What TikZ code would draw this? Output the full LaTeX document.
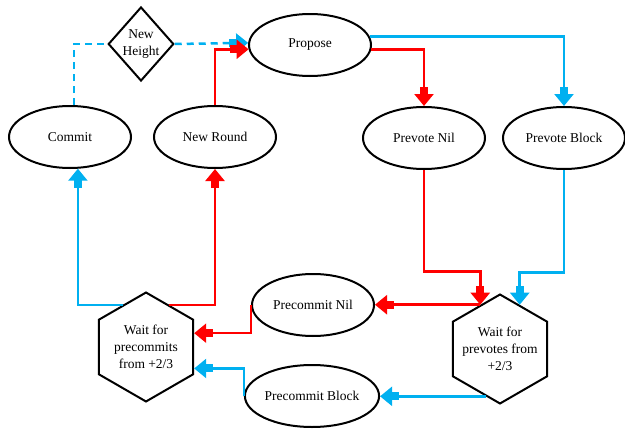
\documentclass[tikz,border=0pt]{standalone}
\usepackage{fontspec}
\setmainfont{Liberation Serif}
\usetikzlibrary{shapes.geometric,arrows.meta}
\definecolor{flowblue}{RGB}{0,176,240}
\definecolor{flowred}{RGB}{255,0,0}
\begin{document}
\begin{tikzpicture}[x=1pt, y=-1pt,
        font=\fontsize{13.5}{17}\selectfont,
        state/.style={ellipse, draw, line width=2pt, minimum width=122pt, minimum height=62pt, inner sep=0pt},
        waitbox/.style={regular polygon, regular polygon sides=6, shape border rotate=30, draw, line width=2pt, minimum size=109pt, inner sep=0pt},
        blk/.style={-{Rectangle[width=8pt,length=9pt,sep=-2pt]Triangle[width=19pt,length=12pt]}},
        bflow/.style={flowblue, line width=2.5pt, blk},
        rflow/.style={flowred, line width=2.5pt, blk}]
        \useasboundingbox (0,0) rectangle (625,434);

        % States
        \node[state] (commit) at (70,137) {Commit};
        \node[state] (round) at (215,137) {New Round};
        \node[state] (propose) at (310,45) {Propose};
        \node[state] (pvnil) at (424,138) {Prevote Nil};
        \node[state] (pvblock) at (564,138) {Prevote Block};
        \node[state] (pcnil) at (313,305) {Precommit Nil};
        \node[state] (pcblock) at (312,396) {Precommit Block};
        \node[diamond, draw, line width=2pt, minimum width=60pt, minimum height=74pt, inner sep=0pt, align=center] (height) at (141,44) {New\\Height};

        % Waiting steps
        \node[waitbox, label={[align=center]center:Wait for\\prevotes from\\+2/3}] (wprev) at (500,349) {};
        \node[waitbox, label={[align=center]center:Wait for\\precommits\\from +2/3}] (wprec) at (146,347) {};

        % Next height
        \draw[flowblue, line width=2.5pt, dash pattern=on 7pt off 5pt] ([xshift=4pt]commit.north) |- (height.west);
        \draw[bflow, dash pattern=on 7pt off 5pt] (height.east) -- (propose.178);

        % Round
        \draw[rflow] (round.north) |- (propose.184);
        \draw[bflow] (propose.8) -| (pvblock.north);
        \draw[rflow] (propose.-4) -| (pvnil.north);
        \draw[rflow] (pvnil.south) |- ([yshift=33pt]wprev.114) -- (wprev.114);
        \draw[bflow] (pvblock.south) |- ([yshift=32pt]wprev.66) -- (wprev.66);
        \draw[rflow] (wprev.114) -- (wprev.114 -| pcnil.east);
        \draw[bflow] (wprev.253) -- (wprev.253 -| pcblock.east);
        \draw[rflow] (pcnil.west) |- (wprec.16);
        \draw[bflow] (pcblock.west) |- (wprec.-24);
        \draw[bflow] (wprec.119) -| (commit.-76);
        \draw[rflow] (wprec.61) -| (round.south);
    \end{tikzpicture}
\end{document}
